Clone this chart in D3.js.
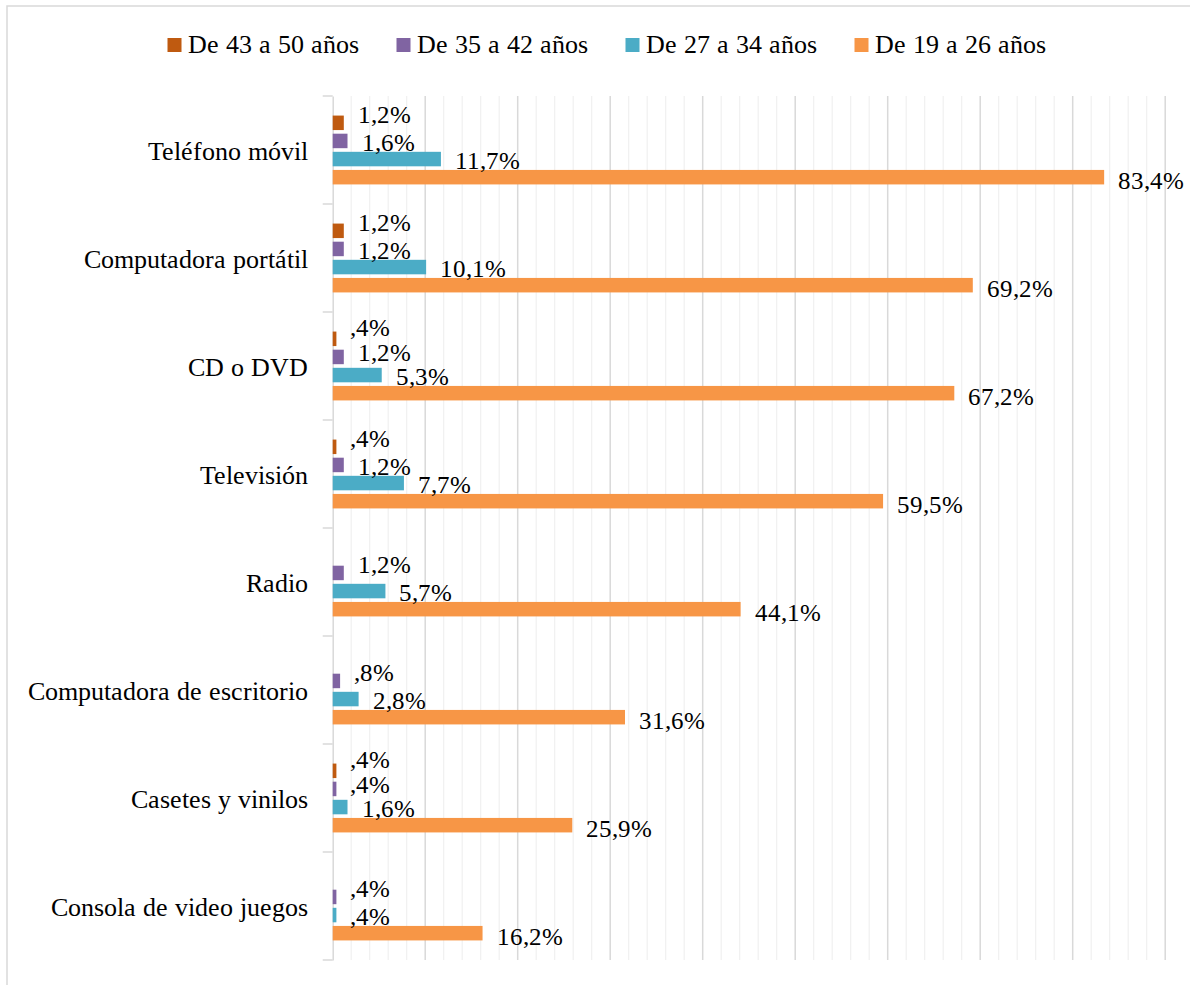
<!DOCTYPE html>
<html>
<head>
<meta charset="utf-8">
<script src="https://cdn.jsdelivr.net/npm/d3@7/dist/d3.min.js"></script>
<style>
  @font-face { font-family: "ChartSerif"; src: local("Liberation Serif"), local("LiberationSerif"), local("LiberationSerif-Regular"), local("Times New Roman"), local("Tinos"); }
  html, body { margin: 0; padding: 0; background: #fff; }
  svg { display: block; }
</style>
</head>
<body>
<svg id="chart" width="1190" height="985"></svg>
<script>
// ---- data ----
const categories = [
  "Teléfono móvil",
  "Computadora portátil",
  "CD o DVD",
  "Televisión",
  "Radio",
  "Computadora de escritorio",
  "Casetes y vinilos",
  "Consola de video juegos"
];
const seriesNames = ["De 43 a 50 años", "De 35 a 42 años", "De 27 a 34 años", "De 19 a 26 años"];
const seriesColors = ["#BF5A10", "#8064A2", "#4BACC6", "#F79646"];
const age43to50 = [1.2, 1.2, 0.4, 0.4, null, null, 0.4, null];
const age35to42 = [1.6, 1.2, 1.2, 1.2, 1.2, 0.8, 0.4, 0.4];
const age27to34 = [11.7, 10.1, 5.3, 7.7, 5.7, 2.8, 1.6, 0.4];
const age19to26 = [83.4, 69.2, 67.2, 59.5, 44.1, 31.6, 25.9, 16.2];
const seriesValues = [age43to50, age35to42, age27to34, age19to26];
const xMax = 90;
const majorTicks = d3.range(0, 91, 10);
const minorTicks = d3.range(0, 91, 2);

// ---- layout ----
const svg = d3.select("#chart");
const FONT = "ChartSerif, 'Liberation Serif', 'Times New Roman', Tinos, 'DejaVu Serif', serif";
const plot = { left: 332.7, right: 1165.2, top: 96, bottom: 960 };

const x = d3.scaleLinear().domain([0, xMax]).range([plot.left, plot.right]);
const y = d3.scaleBand().domain(categories).range([plot.top, plot.bottom]).padding(0);
const ySub = d3.scaleBand().domain(seriesNames).range([0, y.bandwidth()])
  .paddingInner(0.2).paddingOuter(1.08);

const fmt = v => {
  let s = v.toFixed(1).replace(".", ",");
  if (s.startsWith("0,")) s = s.slice(1);
  return s + "%";
};

// outer frame
svg.append("rect").attr("x", 7).attr("y", 6).attr("width", 1300).attr("height", 1100)
  .attr("fill", "none").attr("stroke", "#D9D9D9").attr("stroke-width", 1.5);

// gridlines
svg.append("g").selectAll("line").data(minorTicks.filter(t => t % 10 !== 0 && t > 0))
  .join("line")
  .attr("x1", d => x(d)).attr("x2", d => x(d))
  .attr("y1", plot.top).attr("y2", plot.bottom)
  .attr("stroke", "#F0F0F0").attr("stroke-width", 1.2);
svg.append("g").selectAll("line").data(majorTicks.filter(t => t > 0))
  .join("line")
  .attr("x1", d => x(d)).attr("x2", d => x(d))
  .attr("y1", plot.top).attr("y2", plot.bottom)
  .attr("stroke", "#D9D9D9").attr("stroke-width", 1.5);

// left axis
const yAxis = d3.axisLeft(y).tickSize(0).tickFormat("");
const axG = svg.append("g").attr("transform", `translate(${plot.left},0)`).call(yAxis);
axG.select(".domain").attr("stroke", "#D9D9D9").attr("stroke-width", 1.5);
axG.selectAll(".tick").remove();
const bounds = categories.map(c => y(c)).concat([plot.bottom]);
svg.append("g").selectAll("line").data(bounds).join("line")
  .attr("x1", plot.left - 10).attr("x2", plot.left)
  .attr("y1", d => d).attr("y2", d => d)
  .attr("stroke", "#D9D9D9").attr("stroke-width", 1.5);

// category labels
svg.append("g").selectAll("text").data(categories).join("text")
  .attr("x", 308)
  .attr("y", d => y(d) + y.bandwidth() / 2 + 9.5)
  .attr("text-anchor", "end")
  .attr("font-family", FONT)
  .attr("font-size", 26)
  .attr("fill", "#000")
  .text(d => d);

// bars
const flat = [];
seriesValues.forEach((vals, si) => {
  vals.forEach((v, ci) => {
    if (v !== null) flat.push({ s: seriesNames[si], si, c: categories[ci], v });
  });
});

svg.append("g").selectAll("rect").data(flat).join("rect")
  .attr("x", x(0))
  .attr("y", d => y(d.c) + ySub(d.s))
  .attr("width", d => x(d.v) - x(0))
  .attr("height", ySub.bandwidth())
  .attr("fill", d => seriesColors[d.si]);

// label placement: bottom-up within each category; labels that share
// horizontal space keep a larger spacing; the topmost one is lifted
flat.forEach(d => { d.lx = x(d.v) + 14; d.lw = fmt(d.v).length * 12.5; });
categories.forEach(c => {
  const group = flat.filter(d => d.c === c).sort((a, b) => b.si - a.si);
  let prevD = null, prev = Infinity;
  group.forEach((d, i) => {
    const center = y(d.c) + ySub(d.s) + ySub.bandwidth() / 2;
    const isTop = i === group.length - 1;
    let base = isTop ? Math.min(center, prev - 25) : center + (d.si === 3 ? 11.5 : 10);
    if (prevD) {
      const hOverlap = d.lx < prevD.lx + prevD.lw && prevD.lx < d.lx + d.lw;
      base = Math.min(base, prev - (hOverlap ? 24 : 18));
    }
    d.ly = base;
    prev = base;
    prevD = d;
  });
});

svg.append("g").selectAll("text").data(flat).join("text")
  .attr("x", d => d.lx)
  .attr("y", d => d.ly)
  .attr("font-family", FONT)
  .attr("font-size", 25)
  .attr("fill", "#000")
  .text(d => fmt(d.v));

// legend
const leg = svg.append("g");
const items = leg.selectAll("g").data(seriesNames).join("g");
items.append("rect").attr("width", 14).attr("height", 14).attr("y", 38)
  .attr("fill", (d, i) => seriesColors[i]);
items.append("text").attr("x", 20).attr("y", 53)
  .attr("font-family", FONT).attr("font-size", 26).attr("fill", "#000").text(d => d);
const widths = [];
items.each(function () { widths.push(this.querySelector("text").getComputedTextLength() + 20); });
const gap = 38;
const total = d3.sum(widths) + gap * (widths.length - 1);
let cx = 606.5 - total / 2;
items.attr("transform", (d, i) => {
  const t = `translate(${cx},0)`;
  cx += widths[i] + gap;
  return t;
});
</script>
</body>
</html>
